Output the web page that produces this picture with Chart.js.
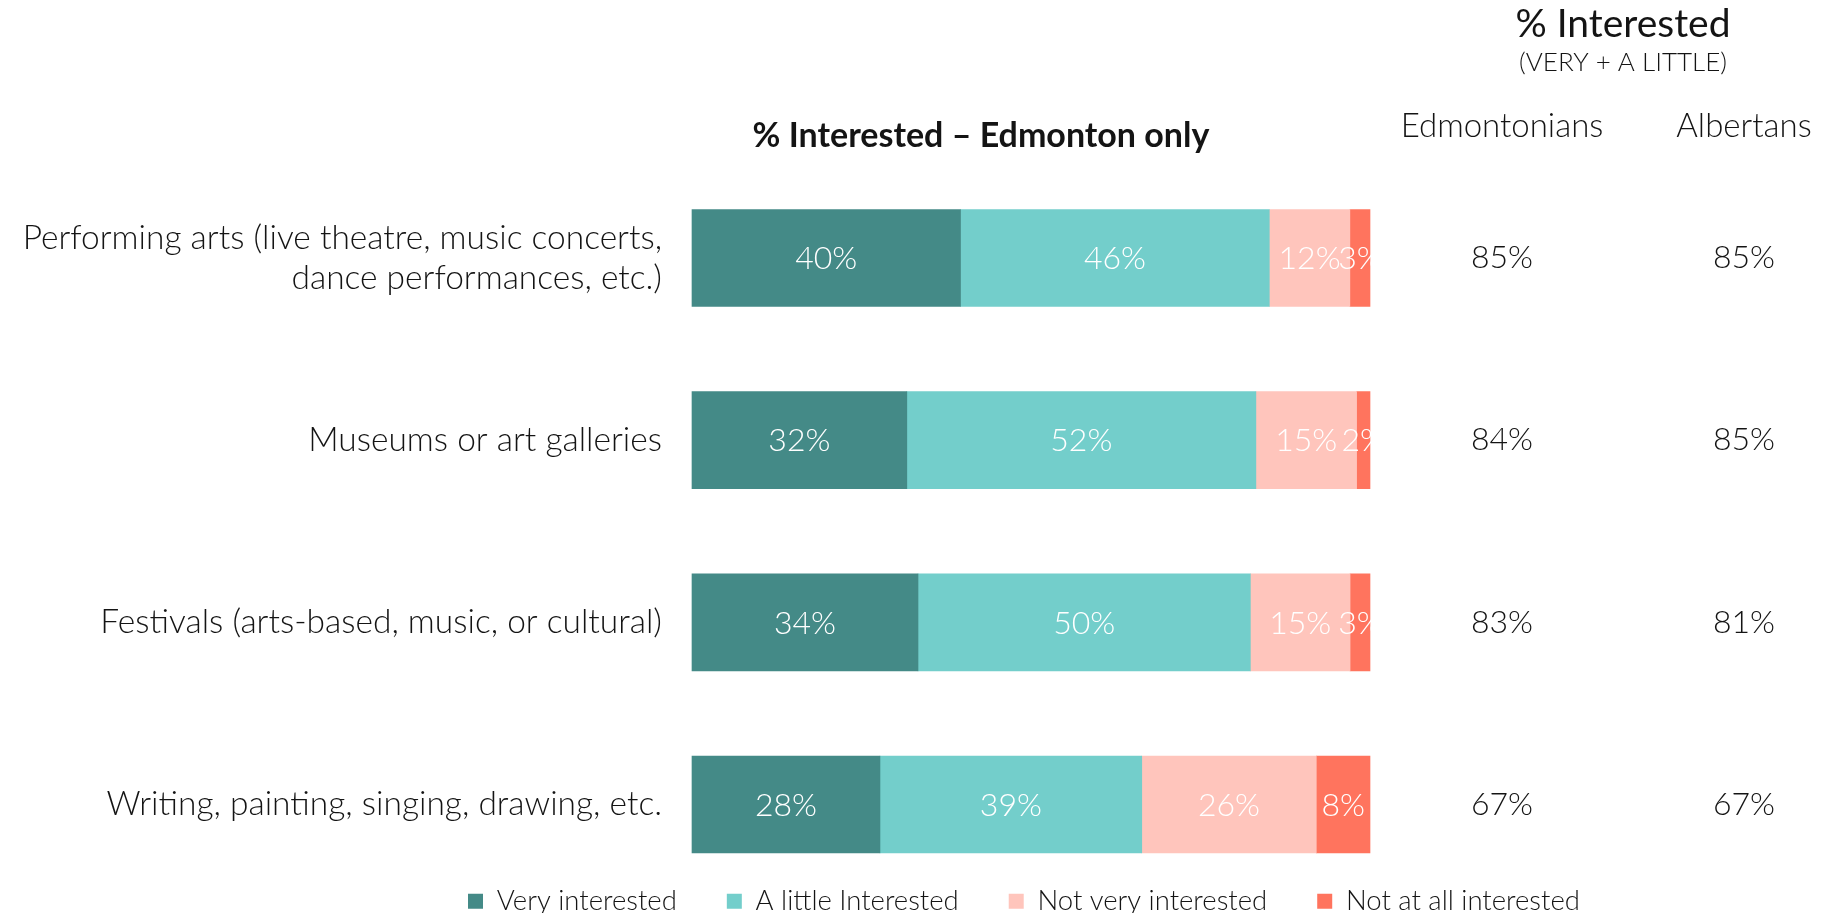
<!DOCTYPE html>
<html>
<head>
<meta charset="utf-8">
<script src="https://cdn.jsdelivr.net/npm/chart.js@4.4.1/dist/chart.umd.min.js"></script>
<style>
  html, body { margin: 0; padding: 0; background: #ffffff; }
  #wrap { width: 1824px; height: 913px; }
</style>
</head>
<body>
<div id="wrap"><canvas id="c" width="1824" height="913"></canvas></div>
<script>
// Activities asked about
const categories = [
  ["Performing arts (live theatre, music concerts,", "dance performances, etc.)"],
  "Museums or art galleries",
  "Festivals (arts-based, music, or cultural)",
  "Writing, painting, singing, drawing, etc."
];

// Edmonton responses, % of respondents
const veryInterested   = [40, 32, 34, 28];
const littleInterested = [46, 52, 50, 39];
const notVeryInterested = [12, 15, 15, 26];
const notAtAllInterested = [3, 2, 3, 8];

// % interested (very + a little)
const edmontonians = [85, 84, 83, 67];
const albertans    = [85, 85, 81, 67];

const seriesNames  = ["Very interested", "A little Interested", "Not very interested", "Not at all interested"];
const seriesColors = ["#448a87", "#73cecb", "#ffc5bc", "#ff745e"];

const FONT = "Lato";
const TEXT = "#141414";

const raw = [veryInterested, littleInterested, notVeryInterested, notAtAllInterested];
// 100% stacked: each row is scaled to its own total
const rowTotals = categories.map((_, i) => raw.reduce((s, arr) => s + arr[i], 0));

const datasets = raw.map((values, k) => ({
  label: seriesNames[k],
  data: values.map((v, i) => v / rowTotals[i] * 100),
  rawValues: values,
  backgroundColor: seriesColors[k],
  borderWidth: 0,
  barThickness: 97,
  clip: false
}));

// Percent labels inside each segment
const segmentLabels = {
  id: "segmentLabels",
  afterDatasetsDraw(chart) {
    const ctx = chart.ctx;
    ctx.save();
    ctx.font = `300 32px ${FONT}`;
    ctx.fillStyle = "#ffffff";
    ctx.textAlign = "center";
    ctx.textBaseline = "middle";
    chart.data.datasets.forEach((ds, k) => {
      const meta = chart.getDatasetMeta(k);
      meta.data.forEach((el, i) => {
        const cx = (el.x + el.base) / 2;
        ctx.fillText(ds.rawValues[i] + "%", cx, el.y + 1);
      });
    });
    ctx.restore();
  }
};

// Headings and the two summary columns on the right
const sideColumns = {
  id: "sideColumns",
  afterDraw(chart) {
    const ctx = chart.ctx;
    const area = chart.chartArea;
    const yScale = chart.scales.y;
    const colEdm = area.right + 132;
    const colAlb = area.right + 374;
    ctx.save();
    ctx.fillStyle = TEXT;
    ctx.textAlign = "center";
    ctx.textBaseline = "middle";

    ctx.font = `39px ${FONT}`;
    ctx.fillText("% Interested", (colEdm + colAlb) / 2, 24);
    ctx.font = `300 26px ${FONT}`;
    ctx.fillText("(VERY + A LITTLE)", (colEdm + colAlb) / 2, 63);

    ctx.font = `300 33px ${FONT}`;
    ctx.fillText("Edmontonians", colEdm, 126);
    ctx.fillText("Albertans", colAlb, 126);

    ctx.font = `bold 34px ${FONT}`;
    ctx.fillText("% Interested \u2013 Edmonton only", 981, 136);

    ctx.font = `300 32px ${FONT}`;
    categories.forEach((_, i) => {
      const y = yScale.getPixelForValue(i);
      ctx.fillText(edmontonians[i] + "%", colEdm, y);
      ctx.fillText(albertans[i] + "%", colAlb, y);
    });
    ctx.restore();
  }
};

// Place the legend row under the bars
const legendPlacement = {
  id: "legendPlacement",
  afterLayout(chart) {
    const lg = chart.legend;
    if (!lg || !lg.lineWidths) return;
    const pad = lg.options.labels.padding;
    const x0 = (lg.left + pad + lg.right - lg.lineWidths[0]) / 2;
    const dx = 468 - x0;
    lg.left += dx;
    lg.right += dx;
    lg.top += 33;
    lg.bottom += 33;
  }
};

new Chart(document.getElementById("c"), {
  type: "bar",
  data: { labels: categories, datasets },
  plugins: [segmentLabels, sideColumns, legendPlacement],
  options: {
    indexAxis: "y",
    responsive: false,
    animation: false,
    devicePixelRatio: 1,
    layout: { padding: { top: 258, right: 454, bottom: 21, left: 0 } },
    scales: {
      x: { stacked: true, min: 0, max: 100, display: false },
      y: {
        stacked: true,
        offset: false,
        grid: { display: false },
        border: { display: false },
        ticks: {
          color: TEXT,
          padding: 22,
          crossAlign: "near",
          font: { family: FONT, size: 33.5, weight: 300, lineHeight: 1.18 }
        },
        afterFit(scale) { scale.width = 692; }
      }
    },
    plugins: {
      tooltip: { enabled: false },
      legend: {
        position: "bottom",
        labels: {
          boxWidth: 15,
          boxHeight: 15,
          padding: 50,
          color: TEXT,
          font: { family: FONT, size: 27.5, weight: 300 }
        }
      }
    }
  }
});
</script>
</body>
</html>
